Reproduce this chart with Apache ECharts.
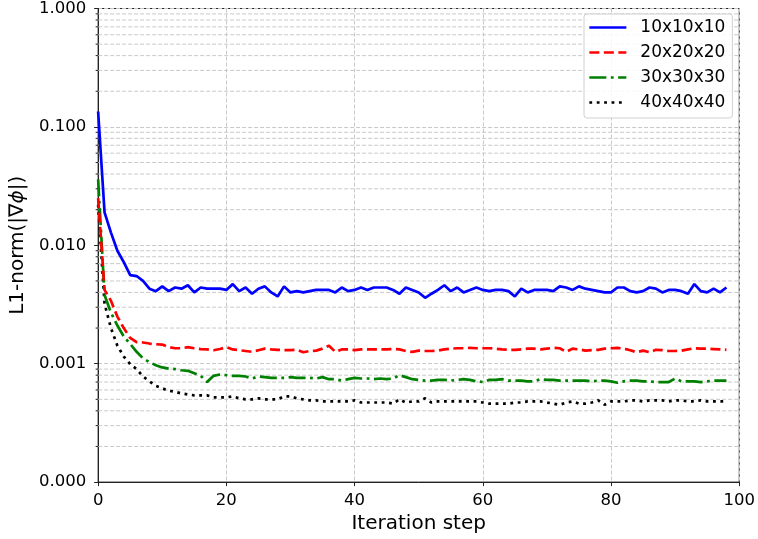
<!DOCTYPE html>
<html>
<head>
<meta charset="utf-8">
<script src="https://cdn.jsdelivr.net/npm/echarts@6/dist/echarts.min.js"></script>
<style>
  html, body { margin: 0; padding: 0; background: #fff; }
  #chart { width: 758px; height: 539px; }
</style>
</head>
<body>
<div id="chart"></div>
<script>
// values, one per iteration step (0..98)
var seriesNames = ['10x10x10', '20x20x20', '30x30x30', '40x40x40'];

var blue = [0.135,0.019,0.0128,0.0090,0.0072,0.0056,0.0055,0.0050,0.0043,0.0041,
  0.0045,0.0041,0.0044,0.0043,0.0046,0.0040,0.0044,0.0043,0.0043,0.0043,
  0.0042,0.0047,0.0041,0.0044,0.0039,0.0043,0.0045,0.0040,0.0037,0.0045,
  0.0040,0.0041,0.0040,0.0041,0.0042,0.0042,0.0042,0.0040,0.0044,0.0041,
  0.0042,0.0044,0.0042,0.0044,0.0044,0.0044,0.0042,0.0039,0.0044,0.0042,
  0.0040,0.0036,0.0039,0.0042,0.0046,0.0041,0.0044,0.0040,0.0042,0.0044,
  0.0042,0.0041,0.0042,0.0042,0.0041,0.0037,0.0043,0.0040,0.0042,0.0042,
  0.0042,0.0041,0.0045,0.0044,0.0042,0.0045,0.0043,0.0042,0.0041,0.0040,
  0.0040,0.0044,0.0044,0.0041,0.0040,0.0041,0.0044,0.0043,0.0040,0.0042,
  0.0042,0.0041,0.0039,0.0047,0.0041,0.0040,0.0043,0.0040,0.0044];

var red = [0.025,0.0042,0.0034,0.0025,0.0020,0.00165,0.00152,0.00151,0.00148,0.00146,
  0.00145,0.00138,0.00135,0.00135,0.00138,0.00135,0.00133,0.00132,0.00130,0.00133,
  0.00138,0.00132,0.00130,0.00128,0.00126,0.00130,0.00134,0.00132,0.00131,0.00130,
  0.00130,0.00131,0.00125,0.00128,0.00129,0.00134,0.00142,0.00126,0.00132,0.00132,
  0.00130,0.00132,0.00132,0.00132,0.00132,0.00132,0.00133,0.00132,0.00128,0.00126,
  0.00129,0.00128,0.00128,0.00129,0.00132,0.00134,0.00135,0.00135,0.00136,0.00135,
  0.00135,0.00135,0.00134,0.00132,0.00131,0.00131,0.00132,0.00134,0.00134,0.00132,
  0.00134,0.00136,0.00135,0.00126,0.00134,0.00132,0.00129,0.00130,0.00131,0.00134,
  0.00135,0.00136,0.00134,0.00130,0.00125,0.00129,0.00125,0.00131,0.00130,0.00128,
  0.00128,0.00129,0.00132,0.00135,0.00134,0.00134,0.00133,0.00132,0.00131];

var green = [0.036,0.0038,0.0027,0.0021,0.0017,0.00147,0.00126,0.00111,0.00103,0.00097,
  0.00093,0.00091,0.00090,0.00088,0.00087,0.00083,0.00079,0.00070,0.00079,0.00081,
  0.00080,0.00079,0.00079,0.00078,0.00075,0.00078,0.00077,0.00076,0.00076,0.00076,
  0.00077,0.00076,0.00076,0.00076,0.00075,0.00077,0.00074,0.00074,0.00072,0.00074,
  0.00076,0.00075,0.00075,0.00074,0.00075,0.00074,0.00075,0.00080,0.00077,0.00074,
  0.00073,0.00072,0.00072,0.00073,0.00073,0.00072,0.00073,0.00074,0.00073,0.00071,
  0.00070,0.00073,0.00073,0.00074,0.00072,0.00072,0.00072,0.00071,0.00071,0.00074,
  0.00073,0.00073,0.00072,0.00072,0.00072,0.00072,0.00072,0.00071,0.00072,0.00072,
  0.00071,0.00069,0.00071,0.00072,0.00072,0.00071,0.00071,0.00070,0.00070,0.00070,
  0.00075,0.00071,0.00071,0.00071,0.00070,0.00071,0.00072,0.00072,0.00072];

var black = [0.022,0.0032,0.0020,0.00142,0.00115,0.00099,0.00090,0.00078,0.00071,0.00065,
  0.00062,0.00059,0.00058,0.00056,0.00055,0.00054,0.00054,0.00054,0.00052,0.00052,
  0.00052,0.00053,0.00051,0.00050,0.00050,0.00051,0.00050,0.00050,0.00050,0.00053,
  0.00053,0.00051,0.00050,0.00049,0.00049,0.00048,0.00048,0.00048,0.00048,0.00048,
  0.00049,0.00047,0.00047,0.00047,0.00047,0.00047,0.00046,0.00050,0.00047,0.00048,
  0.00048,0.00051,0.00047,0.00048,0.00048,0.00048,0.00048,0.00048,0.00048,0.00048,
  0.00047,0.00046,0.00046,0.00046,0.00046,0.00047,0.00047,0.00048,0.00048,0.00048,
  0.00047,0.00046,0.00045,0.00047,0.00048,0.00046,0.00046,0.00047,0.00049,0.00045,
  0.00048,0.00048,0.00048,0.00049,0.00049,0.00048,0.00049,0.00049,0.00049,0.00048,
  0.00049,0.00049,0.00048,0.00048,0.00049,0.00048,0.00048,0.00048,0.00048];

var xTicks = [0, 20, 40, 60, 80, 100];
var decades = [0.0001, 0.001, 0.01, 0.1];
var minorMult = [2, 3, 4, 5, 6, 7, 8, 9];

var FONT = 'DejaVu Sans';
var GRIDCOL = '#c9c9c9';
var LW = 2.7;

function pairs(arr) {
  var out = [];
  for (var i = 0; i < arr.length; i++) out.push([i, arr[i]]);
  return out;
}

// minor gridlines (2..9 x decade) like matplotlib's log axis
var minorVals = [];
decades.forEach(function (d) {
  minorMult.forEach(function (m) { minorVals.push([0, +(d * m).toPrecision(3)]); });
});

var chart = echarts.init(document.getElementById('chart'), null, { renderer: 'canvas' });

var option = {
  animation: false,
  backgroundColor: '#fff',
  textStyle: { fontFamily: FONT },
  grid: {
    left: 97, right: 18, top: 5, bottom: 55,
    show: true, borderColor: '#222', borderWidth: 1, backgroundColor: 'transparent'
  },
  legend: {
    data: seriesNames,
    orient: 'vertical',
    left: 584, top: 14,
    padding: [5, 7, 7, 4],
    itemWidth: 37, itemHeight: 14, itemGap: 8,
    itemStyle: { opacity: 0 },
    lineStyle: { width: LW },
    backgroundColor: 'rgba(255,255,255,0.85)',
    borderColor: '#d0d0d0', borderWidth: 1, borderRadius: 3,
    textStyle: { fontFamily: FONT, fontSize: 17, color: '#000', lineHeight: 17, padding: [0, 0, 0, 9] }
  },
  xAxis: {
    type: 'value', min: 0, max: 100, interval: 20,
    name: 'Iteration step', nameLocation: 'middle', nameGap: 29,
    nameTextStyle: { fontFamily: FONT, fontSize: 20, color: '#000' },
    axisLine: { onZero: false, lineStyle: { color: '#222', width: 1 } },
    axisTick: { show: true, inside: false, length: 4, lineStyle: { color: '#222' } },
    axisLabel: { fontFamily: FONT, fontSize: 16.5, color: '#000', margin: 10,
      formatter: function (v) { return xTicks.indexOf(v) >= 0 ? String(v) : ''; } },
    splitLine: { show: true, lineStyle: { color: GRIDCOL, type: [4, 2], width: 1 } }
  },
  yAxis: {
    type: 'log', logBase: 10, min: 0.0001, max: 1,
    name: 'L1-norm(|∇{i|ϕ}|)', nameLocation: 'middle', nameGap: 67,
    nameTextStyle: { fontFamily: FONT, fontSize: 20, color: '#000',
      rich: { i: { fontFamily: FONT, fontSize: 20, fontStyle: 'italic', color: '#000' } } },
    axisLine: { show: true, lineStyle: { color: '#222', width: 1 } },
    axisTick: { show: true, inside: false, length: 4, lineStyle: { color: '#222' } },
    axisLabel: { fontFamily: FONT, fontSize: 16.5, color: '#000', margin: 12,
      formatter: function (v) { return Number(v).toFixed(3); } },
    splitLine: { show: true, lineStyle: { color: GRIDCOL, type: [4, 2], width: 1 } }
  },
  series: [
    {
      name: 'minor', type: 'custom', z: 1, silent: true, clip: false,
      data: minorVals,
      renderItem: function (params, api) {
        var p = api.coord([0, api.value(1)]);
        var cs = params.coordSys;
        return {
          type: 'group',
          children: [
            { type: 'line', shape: { x1: cs.x, y1: p[1], x2: cs.x + cs.width, y2: p[1] },
              style: { stroke: GRIDCOL, lineWidth: 1, lineDash: [4, 2] } },
            { type: 'line', shape: { x1: cs.x - 2.5, y1: p[1], x2: cs.x, y2: p[1] },
              style: { stroke: '#222', lineWidth: 1 } }
          ]
        };
      }
    },
    {
      name: seriesNames[0], type: 'line', data: pairs(blue), symbol: 'none', z: 5,
      color: '#0000ff', lineStyle: { color: '#0000ff', width: LW, type: 'solid' }
    },
    {
      name: seriesNames[1], type: 'line', data: pairs(red), symbol: 'none', z: 4,
      color: '#ff0000', lineStyle: { color: '#ff0000', width: LW, type: [10, 4.5] }
    },
    {
      name: seriesNames[2], type: 'line', data: pairs(green), symbol: 'none', z: 3,
      color: '#008000', lineStyle: { color: '#008000', width: LW, type: [17, 4.5, 2.8, 4.5] }
    },
    {
      name: seriesNames[3], type: 'line', data: pairs(black), symbol: 'none', z: 2,
      color: '#000000', lineStyle: { color: '#000000', width: LW, type: [2.8, 4.6] }
    }
  ]
};

chart.setOption(option);
</script>
</body>
</html>
